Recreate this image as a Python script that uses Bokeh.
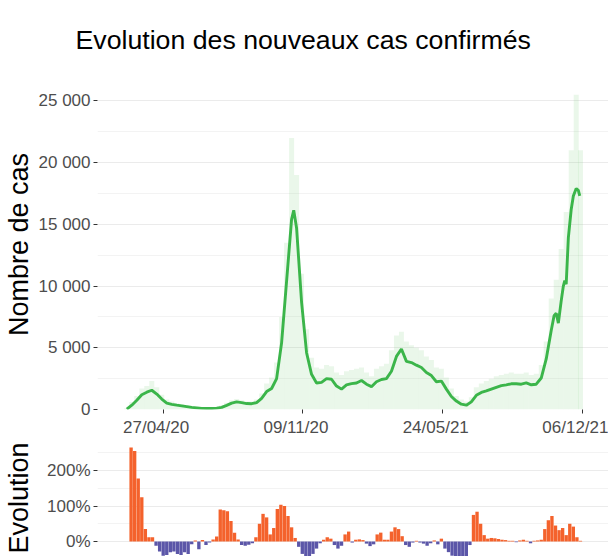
import pandas as pd
from bokeh.plotting import figure
from bokeh.layouts import column
from bokeh.models import Range1d, FixedTicker, DatetimeTickFormatter, ColumnDataSource
from bokeh.embed import file_html
from bokeh.resources import INLINE

# ---------------- data (days counted from 2020-03-01) ----------------
ORIGIN = "2020-03-01"

bar_day = [6, 13, 20, 27, 34, 41, 48, 55, 62, 69, 76, 83, 90, 97, 104, 111, 118, 125, 132, 139,
           146, 153, 160, 167, 174, 181, 188, 195, 202, 209, 216, 223, 230, 237, 244, 251, 258, 265,
           272, 279, 286, 293, 300, 307, 314, 321, 328, 335, 342, 349, 356, 363, 370, 377, 384, 391,
           398, 405, 412, 419, 426, 433, 440, 447, 454, 461, 468, 475, 482, 489, 496, 503, 510, 517,
           524, 531, 538, 545, 552, 559, 566, 573, 580, 587, 594, 601, 608, 615, 622, 629, 636, 642]
bar_cases = [100, 600, 1100, 1700, 1900, 2300, 1800, 1200, 800, 650,
             500, 420, 350, 280, 220, 160, 140, 150, 200, 320,
             550, 750, 850, 750, 650, 650, 800, 1300, 2100, 2600,
             3800, 7500, 13500, 22000, 19000, 11000, 6500, 4200, 3400, 3300,
             3600, 3500, 3000, 2800, 3100, 3200, 3300, 3400, 3000, 2700,
             3300, 3500, 3700, 4800, 6000, 6300, 5500, 5200, 5000, 4800,
             4300, 4000, 3400, 3300, 2600, 1700, 1100, 800, 650, 1000,
             1800, 2100, 2300, 2500, 2700, 2800, 2900, 3000, 2900, 2900,
             3000, 2800, 2900, 3600, 5500, 9000, 10500, 13000, 16000, 21000,
             25500, 21000]

line_day = [6, 13, 20, 27, 34, 41, 48, 55, 62, 69, 76, 83, 90, 97, 104, 111, 118, 125, 132, 139,
            146, 153, 160, 167, 174, 181, 188, 195, 202, 209, 216, 223, 230, 237, 240, 244, 251, 258,
            265, 272, 279, 286, 293, 300, 307, 314, 321, 328, 335, 342, 349, 356, 363, 370, 377, 384,
            391, 398, 405, 412, 419, 426, 433, 440, 447, 454, 461, 468, 475, 482, 489, 496, 503, 510,
            517, 524, 531, 538, 545, 552, 559, 566, 573, 580, 587, 594, 601, 605, 608, 611, 615, 618,
            620, 622, 625, 629, 632, 636, 639, 641]
line_cases = [30, 350, 750, 1200, 1400, 1560, 1250, 850, 520, 420,
              350, 290, 230, 170, 130, 90, 80, 80, 110, 170,
              340, 520, 620, 560, 480, 470, 560, 900, 1450, 1700,
              2500, 5400, 10400, 15400, 16140, 14700, 8700, 4600, 2850, 2150,
              2200, 2500, 2450, 1900, 1650, 1990, 2100, 2150, 2350, 2050,
              1850, 2250, 2430, 2500, 3100, 4300, 4900, 3900, 3800, 3590,
              3400, 3000, 2750, 2250, 2300, 1650, 1050, 680, 430, 350,
              620, 1150, 1380, 1500, 1650, 1800, 1930, 2000, 2080, 2080,
              2050, 2150, 2000, 2050, 2550, 4100, 6400, 7600, 7800, 7000,
              8800, 10000, 10450, 10150, 13900, 16200, 17300, 17900, 17750, 17300]

evo_day = [12, 17, 22, 27, 32, 37, 42, 47, 52, 57, 62, 67, 72, 77, 82, 87, 92, 97, 102, 107,
           112, 117, 122, 127, 132, 137, 142, 147, 152, 157, 162, 167, 172, 177, 182, 187, 192, 197,
           202, 207, 212, 217, 222, 227, 232, 237, 242, 247, 252, 257, 262, 267, 272, 277, 282, 287,
           292, 297, 302, 307, 312, 317, 322, 327, 332, 337, 342, 347, 352, 357, 362, 367, 372, 377,
           382, 387, 392, 397, 402, 407, 412, 417, 422, 427, 432, 437, 442, 447, 452, 457, 462, 467,
           472, 477, 482, 487, 492, 497, 502, 507, 512, 517, 522, 527, 532, 537, 542, 547, 552, 557,
           562, 567, 572, 577, 582, 587, 592, 597, 602, 607, 612, 617, 622, 627, 632, 637, 642]
evo_pct = [265, 255, 178, 125, 35, 12, 12, -12, -28, -40,
           -38, -30, -28, -35, -38, -30, -35, -8, 3, -22,
           4, -10, -3, 6, 14, 90, 88, 85, 58, 25,
           6, -10, -12, -9, -5, 12, 50, 78, 68, 20,
           38, 92, 104, 100, 72, 40, 10, -15, -35, -42,
           -42, -35, -20, -5, 5, 12, 8, -10, -20, -12,
           20, 28, -3, 5, 6, 4, -6, -13, -8, 20,
           25, 5, 5, 28, 40, 35, 15, -10, -15, -3,
           2, -3, -6, -12, -5, 3, -8, 8, -20, -30,
           -40, -45, -48, -48, -45, -10, 75, 84, 50, 18,
           8, 10, 9, 7, 5, 4, 2, 2, -2, 3,
           5, 2, -5, 2, 3, 5, 35, 60, 72, 45,
           32, 38, 18, 50, 42, 12, 2]

x_tick_dates = ["2020-04-27", "2020-11-09", "2021-05-24", "2021-12-06"]
x_tick_labels = ["27/04/20", "09/11/20", "24/05/21", "06/12/21"]
y_ticks = [0, 5000, 10000, 15000, 20000, 25000]
y_tick_labels = ["0", "5 000", "10 000", "15 000", "20 000", "25 000"]
y_minor = [2500, 7500, 12500, 17500, 22500]
evo_ticks = [0, 100, 200]
evo_tick_labels = ["0%", "100%", "200%"]
evo_minor = [-50, 50, 150, 250]

assert len(bar_day) == len(bar_cases)
assert len(line_day) == len(line_cases)
assert len(evo_day) == len(evo_pct)

# ---------------- helpers ----------------
origin = pd.Timestamp(ORIGIN)
DAY_MS = 86400000
NBSP3 = "\u00a0\u00a0\u00a0"


def to_dt(days):
    return [origin + pd.Timedelta(days=d) for d in days]


FONT = "Liberation Sans"
GRID = "#ebebeb"

x_range = Range1d(origin + pd.Timedelta(days=-35.1), origin + pd.Timedelta(days=681.3))


def style_common(p):
    p.outline_line_color = None
    p.background_fill_color = "white"
    p.border_fill_color = "white"
    p.xgrid.grid_line_color = None
    p.ygrid.grid_line_color = GRID
    p.ygrid.grid_line_width = 1.1
    p.ygrid.minor_grid_line_color = GRID
    p.ygrid.minor_grid_line_width = 0.6
    for ax in p.yaxis:
        ax.axis_line_color = None
        ax.major_tick_line_color = "#333333"
        ax.major_tick_out = 4
        ax.major_tick_in = 0
        ax.minor_tick_line_color = None
        ax.major_label_standoff = 3
        ax.major_label_text_font = FONT
        ax.major_label_text_font_size = "17px"
        ax.major_label_text_color = "#4d4d4d"
        ax.axis_label_text_font = FONT
        ax.axis_label_text_font_size = "27px"
        ax.axis_label_text_font_style = "normal"
        ax.axis_label_text_color = "black"


# ---------------- top panel ----------------
p1 = figure(width=608, height=439, x_axis_type="datetime", x_range=x_range,
            y_range=Range1d(0, 26730), output_backend="svg", toolbar_location=None,
            min_border_left=97, min_border_right=0, min_border_top=79, min_border_bottom=30)
style_common(p1)

p1.title.text = "Evolution des nouveaux cas confirmés"
p1.title.text_font = FONT
p1.title.text_font_size = "26.7px"
p1.title.text_font_style = "normal"
p1.title.text_color = "black"
p1.title.align = "left"
p1.title.vertical_align = "top"
p1.title.offset = -22
p1.title.standoff = 46

bar_src = ColumnDataSource(dict(x=to_dt(bar_day), top=bar_cases))
p1.vbar(x="x", top="top", width=7 * DAY_MS, source=bar_src,
        fill_color="#7fcf7f", fill_alpha=0.16, line_color=None)
line_src = ColumnDataSource(dict(x=to_dt(line_day), y=line_cases))
p1.line(x="x", y="y", source=line_src, line_color="#3bb54a", line_width=2.9)

yt = FixedTicker(ticks=y_ticks, minor_ticks=y_minor)
p1.yaxis.ticker = yt
p1.ygrid.ticker = yt
p1.yaxis.major_label_overrides = {t: s for t, s in zip(y_ticks, y_tick_labels)}
p1.yaxis.axis_label = "Nombre de cas"
p1.yaxis.axis_label_standoff = 2

tick_ms = [pd.Timestamp(d).value // 10**6 for d in x_tick_dates]
p1.xaxis.ticker = FixedTicker(ticks=tick_ms, minor_ticks=[])
fmt = "%d/%m/%y" + NBSP3
p1.xaxis.formatter = DatetimeTickFormatter(
    microseconds=fmt, milliseconds=fmt, seconds=fmt, minsec=fmt, minutes=fmt,
    hourmin=fmt, hours=fmt, days=fmt, months=fmt, years=fmt)
# last label sits at the right edge: no trailing padding there
p1.xaxis.major_label_overrides = {
    t: (s + NBSP3 if i < len(tick_ms) - 1 else s)
    for i, (t, s) in enumerate(zip(tick_ms, x_tick_labels))}
xa = p1.xaxis[0]
xa.axis_line_color = None
xa.major_tick_line_color = "#333333"
xa.major_tick_out = 4
xa.major_tick_in = 0
xa.minor_tick_line_color = None
xa.major_label_standoff = 4
xa.major_label_text_font = FONT
xa.major_label_text_font_size = "17px"
xa.major_label_text_color = "#4d4d4d"

# ---------------- bottom panel ----------------
p2 = figure(width=608, height=117, x_axis_type="datetime", x_range=x_range,
            x_axis_location=None, y_range=Range1d(-42.3, 287.7),
            output_backend="svg", toolbar_location=None,
            min_border_left=97, min_border_right=0, min_border_top=0, min_border_bottom=0)
style_common(p2)

evo_colors = ["#f4622c" if v >= 0 else "#5b56a8" for v in evo_pct]
evo_src = ColumnDataSource(dict(x=to_dt(evo_day), top=evo_pct, c=evo_colors))
p2.vbar(x="x", top="top", bottom=0, width=4.7 * DAY_MS, source=evo_src,
        fill_color="c", line_color=None)

et = FixedTicker(ticks=evo_ticks, minor_ticks=evo_minor)
p2.yaxis.ticker = et
p2.ygrid.ticker = et
p2.yaxis.major_label_overrides = {t: s for t, s in zip(evo_ticks, evo_tick_labels)}
p2.yaxis.axis_label = "Evolution"
p2.yaxis.axis_label_standoff = 10

layout = column(p1, p2)
open("out.html", "w").write(file_html(layout, INLINE))
